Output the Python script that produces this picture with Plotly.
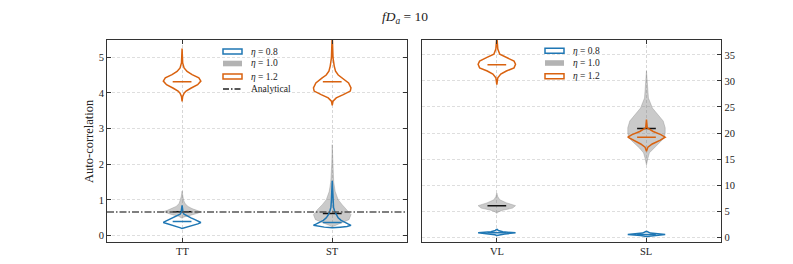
import plotly.graph_objects as go

W, H = 793, 264

# ---------------- data ----------------
LEFT_CATS = ["TT", "ST"]
RIGHT_CATS = ["VL", "SL"]
ETA_NAMES = ["<i>η</i> = 0.8", "<i>η</i> = 1.0", "<i>η</i> = 1.2"]
ANALYTICAL_VALUE = 0.667
LEFT_TICKS = [0, 1, 2, 3, 4, 5]
RIGHT_TICKS = [0, 5, 10, 15, 20, 25, 30, 35]

# Violin profiles: y levels and relative density (width)
TT_E08_Y = [0.85, 0.75, 0.65, 0.60, 0.55, 0.50, 0.45, 0.40, 0.37, 0.33, 0.29, 0.25, 0.22, 0.20]
TT_E08_D = [0, 0.3, 1, 2, 5, 9, 13, 17, 19, 16, 11, 5, 1.5, 0]
TT_E08_MED = 0.40

TT_E10_Y = [1.25, 1.10, 1.00, 0.90, 0.82, 0.76, 0.71, 0.67, 0.63, 0.59, 0.55, 0.52, 0.49]
TT_E10_D = [0, 0.8, 1.5, 3, 6, 10, 15, 19, 16, 10, 4, 1.5, 0]
TT_E10_MED = 0.67

TT_E12_Y = [5.24, 4.84, 4.70, 4.60, 4.51, 4.42, 4.33, 4.23, 4.13, 4.05, 3.99, 3.90, 3.76]
TT_E12_D = [0, 0.6, 2, 5, 10, 16.7, 18.7, 15.5, 8.7, 4, 2, 0.6, 0]
TT_E12_MED = 4.31

ST_E08_Y = [1.54, 1.30, 1.00, 0.80, 0.68, 0.58, 0.50, 0.43, 0.38, 0.33, 0.29, 0.26, 0.24, 0.22]
ST_E08_D = [0, 0.4, 0.8, 1.3, 2.5, 4, 6, 9, 12, 16, 19, 15, 8, 0]
ST_E08_MED = 0.37

ST_E10_Y = [2.55, 2.00, 1.50, 1.24, 1.01, 0.87, 0.73, 0.59, 0.45, 0.36, 0.29, 0.25]
ST_E10_D = [0, 0.5, 1.5, 3, 6, 10, 15, 19, 17, 10, 3, 0]
ST_E10_MED = 0.62

ST_E12_Y = [5.65, 5.30, 4.98, 4.75, 4.61, 4.50, 4.42, 4.28, 4.14, 4.05, 3.95, 3.86, 3.77, 3.65]
ST_E12_D = [0, 0.4, 0.8, 2, 3.3, 6, 10, 16.3, 18.7, 18, 11, 4, 0.8, 0]
ST_E12_MED = 4.31

VL_E08_Y = [1.6, 1.3, 1.05, 0.85, 0.65, 0.5, 0.35]
VL_E08_D = [0, 1.5, 6, 19, 8, 2, 0]
VL_E08_MED = 0.85

VL_E10_Y = [8.5, 7.8, 7.2, 6.6, 6.07, 5.6, 5.18, 4.9, 4.6]
VL_E10_D = [0, 1, 3, 10, 19, 16, 6, 2, 0]
VL_E10_MED = 6.07

VL_E12_Y = [38.5, 37.0, 36.1, 35.1, 34.5, 33.8, 33.2, 32.5, 31.9, 31.3, 30.6, 29.3]
VL_E12_D = [0, 0.5, 1, 3, 10, 17.5, 19, 17.5, 9.7, 4, 1, 0]
VL_E12_MED = 33.1

SL_E08_Y = [1.15, 0.8, 0.55, 0.35, 0.15]
SL_E08_D = [0, 4, 19, 6, 0]
SL_E08_MED = 0.55

SL_E10_Y = [31.9, 29.0, 26.7, 24.8, 23.5, 22.3, 21.0, 20.0, 19.05, 18.1, 17.1, 16.2, 15.2, 13.9]
SL_E10_D = [0, 1, 2, 6, 12, 17, 19, 19, 18, 13, 7, 3, 1.5, 0]
SL_E10_MED = 20.85

SL_E12_Y = [22.6, 21.0, 20.3, 19.7, 19.2, 18.6, 17.9, 17.3, 16.5]
SL_E12_D = [0, 0.8, 7, 15, 19.5, 14, 6, 1.5, 0]
SL_E12_MED = 19.2

# ---------------- style ----------------
BLUE = "#1f77b4"
ORANGE = "#d9620f"
GRAY_FILL = "rgba(128,128,128,0.42)"
GRAY_EDGE = "rgba(128,128,128,0.35)"
SPINE = "#333333"
FONT = "Liberation Serif"
HALF_WIDTH = 0.125


def px_x(p):
    return p / W


def px_y(p):
    return 1 - p / H


fig = go.Figure()


def add_violin(pos, ys, dens, med, kind, xa, ya):
    m = max(dens)
    right = [pos + HALF_WIDTH * d / m for d in dens]
    left = [pos - HALF_WIDTH * d / m for d in dens][::-1]
    xs = right + left + [right[0]]
    yy = list(ys) + list(ys)[::-1] + [ys[0]]
    if kind == "gray":
        fig.add_trace(go.Scatter(x=xs, y=yy, mode="lines", fill="toself",
                                 fillcolor=GRAY_FILL, line=dict(color=GRAY_EDGE, width=1),
                                 showlegend=False, hoverinfo="skip",
                                 xaxis=xa, yaxis=ya))
        med_color = "#111111"
    else:
        c = BLUE if kind == "blue" else ORANGE
        fig.add_trace(go.Scatter(x=xs, y=yy, mode="lines",
                                 line=dict(color=c, width=1.5),
                                 showlegend=False, hoverinfo="skip",
                                 xaxis=xa, yaxis=ya))
        med_color = c
    fig.add_trace(go.Scatter(x=[pos - HALF_WIDTH / 2, pos + HALF_WIDTH / 2],
                             y=[med, med], mode="lines",
                             line=dict(color=med_color, width=1.5),
                             showlegend=False, hoverinfo="skip",
                             xaxis=xa, yaxis=ya))


# left panel
add_violin(0, TT_E10_Y, TT_E10_D, TT_E10_MED, "gray", "x", "y")
add_violin(1, ST_E10_Y, ST_E10_D, ST_E10_MED, "gray", "x", "y")
add_violin(0, TT_E08_Y, TT_E08_D, TT_E08_MED, "blue", "x", "y")
add_violin(1, ST_E08_Y, ST_E08_D, ST_E08_MED, "blue", "x", "y")
add_violin(0, TT_E12_Y, TT_E12_D, TT_E12_MED, "orange", "x", "y")
add_violin(1, ST_E12_Y, ST_E12_D, ST_E12_MED, "orange", "x", "y")

# analytical line
fig.add_trace(go.Scatter(x=[-0.5, 1.5], y=[ANALYTICAL_VALUE, ANALYTICAL_VALUE],
                         mode="lines",
                         line=dict(color="#555555", width=1.5, dash="7px,2px,1.5px,2px"),
                         showlegend=False, hoverinfo="skip", xaxis="x", yaxis="y"))

# right panel
add_violin(0, VL_E10_Y, VL_E10_D, VL_E10_MED, "gray", "x2", "y2")
add_violin(1, SL_E10_Y, SL_E10_D, SL_E10_MED, "gray", "x2", "y2")
add_violin(0, VL_E08_Y, VL_E08_D, VL_E08_MED, "blue", "x2", "y2")
add_violin(1, SL_E08_Y, SL_E08_D, SL_E08_MED, "blue", "x2", "y2")
add_violin(0, VL_E12_Y, VL_E12_D, VL_E12_MED, "orange", "x2", "y2")
add_violin(1, SL_E12_Y, SL_E12_D, SL_E12_MED, "orange", "x2", "y2")

tickfont = dict(family=FONT, size=10.5, color="#222222")
common_x = dict(range=[-0.5, 1.5], tickvals=[0, 1], ticks="inside", ticklen=4,
                tickcolor=SPINE, showline=True, linecolor=SPINE, linewidth=1,
                mirror="ticks", showgrid=True, gridcolor="#d6d6d6", griddash="3px,2px",
                gridwidth=0.8, zeroline=False, showticklabels=False)
common_y = dict(ticks="inside", ticklen=4, tickcolor=SPINE, showline=True,
                linecolor=SPINE, linewidth=1, showgrid=True, gridcolor="#dedede",
                griddash="3px,2px", gridwidth=0.8, zeroline=False, tickfont=tickfont)

yd = [1 - 234.3 / H, 1 - 31.7 / H]
fig.update_layout(
    width=W, height=H, autosize=False,
    margin=dict(l=0, r=0, t=0, b=0),
    paper_bgcolor="white", plot_bgcolor="white",
    showlegend=False,
    xaxis=dict(domain=[99 / W, 399.3 / W], anchor="y", **common_x),
    yaxis=dict(domain=yd, range=[-0.185, 5.49], tickvals=LEFT_TICKS, mirror="ticks",
               anchor="x", **common_y),
    xaxis2=dict(domain=[414 / W, 713.3 / W], anchor="y2", **common_x),
    yaxis2=dict(domain=yd, range=[-0.96, 37.9], tickvals=RIGHT_TICKS, side="right",
                mirror=True, anchor="x2", **common_y),
)

shapes = []
annotations = []

# x tick labels (placed close to the axis like the reference)
for xref, cats in (("x", LEFT_CATS), ("x2", RIGHT_CATS)):
    for i, cat in enumerate(cats):
        annotations.append(dict(xref=xref, yref="paper", x=i, y=px_y(243.5),
                                xanchor="center", yanchor="middle", showarrow=False,
                                text=cat, font=tickfont))


def legend(x0, rows, names, kinds):
    for ry, name, kind in zip(rows, names, kinds):
        if kind == "line":
            shapes.append(dict(type="line", xref="paper", yref="paper",
                               x0=px_x(x0), x1=px_x(x0 + 19), y0=px_y(ry), y1=px_y(ry),
                               line=dict(color="#222222", width=1.5, dash="6px,2px,1.5px,2px")))
        elif kind == "gray":
            shapes.append(dict(type="rect", xref="paper", yref="paper",
                               x0=px_x(x0), x1=px_x(x0 + 19), y0=px_y(ry - 2.8), y1=px_y(ry + 2.8),
                               fillcolor="rgba(128,128,128,0.6)", line=dict(width=0)))
        else:
            c = BLUE if kind == "blue" else ORANGE
            shapes.append(dict(type="rect", xref="paper", yref="paper",
                               x0=px_x(x0), x1=px_x(x0 + 19), y0=px_y(ry - 2.5), y1=px_y(ry + 2.5),
                               fillcolor="rgba(0,0,0,0)", line=dict(color=c, width=1.5)))
        annotations.append(dict(xref="paper", yref="paper", x=px_x(x0 + 26), y=px_y(ry),
                                xanchor="left", yanchor="middle", showarrow=False,
                                text=name, font=dict(family=FONT, size=9.5, color="#222222")))


legend(215, [43.5, 55.5, 68.5, 81], ETA_NAMES + ["Analytical"], ["blue", "gray", "orange", "line"])
legend(537, [42.7, 55, 68.3], ETA_NAMES, ["blue", "gray", "orange"])

annotations.append(dict(xref="paper", yref="paper", x=px_x(397), y=px_y(10),
                        xanchor="center", yanchor="middle", showarrow=False,
                        text="<i>fD</i><sub><i>a</i></sub> = 10",
                        font=dict(family=FONT, size=13.5, color="#222222")))
annotations.append(dict(xref="paper", yref="paper", x=px_x(81), y=px_y(133),
                        xanchor="center", yanchor="middle", showarrow=False, textangle=-90,
                        text="Auto-correlation",
                        font=dict(family=FONT, size=12.5, color="#222222")))

fig.update_layout(shapes=shapes, annotations=annotations)
fig.write_html("out.html")
